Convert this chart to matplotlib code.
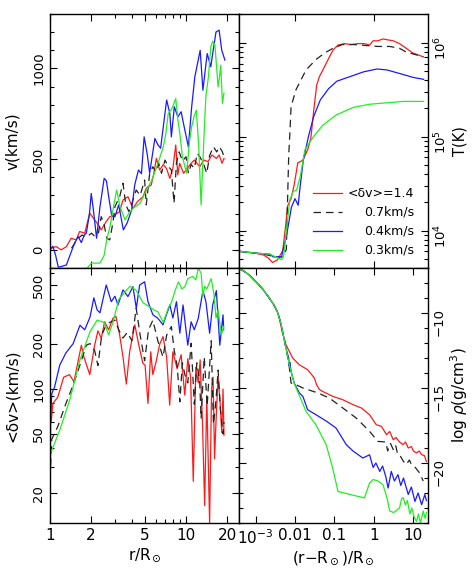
import numpy as np
import matplotlib.pyplot as plt
from matplotlib.ticker import FixedLocator, FixedFormatter, MultipleLocator, NullFormatter

plt.rcParams['font.family'] = ['DejaVu Sans']
plt.rcParams['font.size'] = 10
plt.rcParams['mathtext.fontset'] = 'dejavusans'
plt.rcParams['axes.linewidth'] = 1.0

RED, BLACK, BLUE, GREEN = '#ff1a1a', '#222222', '#1a1aff', '#22ee22'
DASH = (0, (6, 4))
LW = 0.9

# ---- top left: v(km/s) vs r/Rsun
v_red_r = [1.0, 1.02, 1.11, 1.21, 1.32, 1.43, 1.56, 1.65, 1.8, 1.96, 2.13, 2.27, 2.38, 2.59, 2.75, 2.95,
           3.25, 3.44, 3.74, 4.07, 4.4, 4.82, 5.1, 5.55, 5.8, 6.05, 6.4, 6.8, 7.18, 7.6, 8.0, 8.4, 8.7,
           8.97, 9.6, 10.2, 10.9, 11.5, 12.6, 13.5, 14.5, 15.5, 16.7, 17.5, 18.4, 19.0]
v_red = [0, 9, 18, 0, 18, 64, 55, 101, 92, 202, 165, 137, 110, 156, 183, 190, 211, 275, 293, 229, 266,
         293, 339, 358, 422, 504, 440, 470, 449, 394, 449, 578, 413, 477, 422, 450, 477, 495, 458, 495,
         486, 523, 504, 523, 477, 504]

v_black_r = [1.44, 1.57, 1.72, 1.85, 2.02, 2.13, 2.27, 2.38, 2.5, 2.61, 2.75, 2.9, 3.0, 3.25, 3.44, 3.6,
             3.8, 4.0, 4.3, 4.6, 4.96, 5.1, 5.4, 5.7, 6.0, 6.3, 6.6, 7.0, 7.4, 7.8, 8.16, 8.5, 8.9, 9.4,
             10.0, 10.4, 10.9, 11.5, 12.1, 12.7, 13.5, 14.2, 14.9, 15.9, 16.8, 17.6, 18.5, 19.3]
v_black = [9, 55, 82, 70, 92, 75, 92, 183, 140, 64, 55, 150, 238, 293, 367, 250, 211, 257, 330, 300, 385,
           248, 420, 458, 430, 477, 422, 495, 460, 440, 257, 480, 540, 490, 513, 422, 470, 450, 532, 510,
           470, 422, 520, 568, 540, 568, 540, 495]

v_blue_r = [1.0, 1.02, 1.05, 1.1, 1.15, 1.21, 1.32, 1.48, 1.55, 1.61, 1.7, 1.78, 1.85, 1.95, 2.01, 2.08,
            2.2, 2.33, 2.5, 2.6, 2.7, 2.85, 3.0, 3.2, 3.46, 3.7, 3.98, 4.2, 4.47, 4.7, 4.92, 5.2, 5.4,
            5.9, 6.2, 6.5, 7.2, 7.6, 7.8, 8.2, 8.7, 9.2, 9.8, 10.4, 11.0, 11.6, 12.7, 13.3, 14.3, 15.2,
            15.7, 16.6, 17.5, 18.3, 19.3]
v_blue = [0, 9, 20, -30, -95, -92, -83, 17, 50, 73, 40, 80, 92, 200, 311, 226, 64, 238, 394, 380, 293,
          183, 183, 248, 110, 150, 220, 360, 440, 420, 623, 520, 423, 614, 580, 560, 826, 752, 623, 789,
          733, 761, 660, 568, 789, 953, 1100, 880, 1082, 1009, 1082, 1201, 1211, 1100, 1046]

v_green_r = [1.88, 2.02, 2.33, 2.5, 2.61, 2.76, 2.95, 3.09, 3.27, 3.56, 3.8, 4.1, 4.59, 5.13, 5.6, 6.1,
             6.8, 7.1, 7.4, 7.9, 8.4, 8.7, 9.0, 9.4, 10.1, 10.6, 11.0, 11.5, 11.9, 12.4, 12.9, 13.5,
             14.0, 14.6, 15.2, 15.7, 16.3, 16.8, 17.2, 17.6, 18.0, 18.5, 19.0]
v_green = [-100, -73, -73, -30, 55, 128, 250, 330, 238, 165, 202, 230, 257, 330, 385, 458, 568, 640, 752,
           780, 835, 720, 642, 513, 422, 600, 679, 740, 770, 568, 248, 600, 850, 953, 1119, 1150, 1128,
           1000, 899, 950, 1018, 807, 864]

# ---- bottom left: <dv>(km/s) vs r/Rsun
dv_red_r = [1.02, 1.05, 1.14, 1.26, 1.39, 1.5, 1.7, 1.78, 1.96, 2.13, 2.25, 2.38, 2.52, 2.7, 2.9, 3.05,
            3.25, 3.44, 3.64, 3.85, 4.2, 4.5, 4.8, 5.0, 5.25, 5.5, 5.7, 6.0, 6.4, 6.77, 7.2, 7.58, 8.0,
            8.6, 9.2, 9.78, 10.3, 10.8, 11.3, 11.8, 12.3, 12.7, 13.2, 13.7, 14.2, 14.9, 15.4, 15.8,
            16.2, 16.6, 17.2, 17.8, 18.3, 18.7, 19.0]
dv_red = [60, 80, 88, 120, 125, 112, 197, 163, 125, 197, 246, 219, 283, 250, 299, 308, 231, 164, 108,
          178, 270, 197, 150, 144, 80, 178, 125, 150, 200, 225, 164, 78, 178, 137, 170, 91, 160, 120, 24,
          140, 110, 157, 60, 16.5, 90, 12.6, 100, 120, 34, 60, 121, 80, 51, 100, 49]

dv_black_r = [1.0, 1.03, 1.14, 1.31, 1.5, 1.7, 1.85, 1.97, 2.13, 2.25, 2.4, 2.59, 2.8, 3.0, 3.2, 3.44,
              3.7, 4.0, 4.3, 4.6, 4.96, 5.3, 5.7, 6.2, 6.77, 7.2, 7.8, 8.2, 8.6, 9.0, 9.4, 9.8, 10.3,
              10.9, 11.5, 12.0, 12.6, 12.9, 13.6, 14.3, 15.3, 15.9, 16.6, 17.2, 17.9, 18.7, 19.0]
dv_black = [25, 46, 56, 80, 110, 155, 197, 202, 181, 144, 230, 270, 283, 290, 250, 220, 240, 211, 349,
            230, 155, 250, 290, 211, 164, 230, 263, 180, 144, 82, 150, 125, 110, 203, 79, 150, 112, 63.5,
            164, 77, 211, 58, 84, 134, 72, 50, 60]

dv_blue_r = [1.0, 1.01, 1.03, 1.08, 1.18, 1.31, 1.48, 1.66, 1.8, 1.97, 2.1, 2.22, 2.33, 2.45, 2.59,
             2.82, 3.0, 3.16, 3.44, 3.74, 4.07, 4.31, 4.56, 4.96, 5.25, 5.71, 6.2, 6.77, 7.17, 7.6, 8.0,
             8.5, 9.0, 9.5, 10.3, 10.9, 11.5, 12.3, 13.3, 14.0, 14.9, 15.7, 16.7, 17.7, 18.7, 18.9]
dv_blue = [12.6, 60, 93, 103, 145, 175, 202, 268, 250, 305, 410, 340, 325, 400, 500, 386, 420, 367, 463,
           418, 487, 349, 500, 525, 386, 315, 299, 270, 315, 367, 300, 386, 237, 367, 197, 283, 250, 299,
           458, 386, 237, 367, 458, 197, 315, 250]

dv_green_r = [1.0, 1.01, 1.18, 1.4, 1.66, 1.97, 2.22, 2.5, 2.7, 2.9, 3.2, 3.6, 3.87, 4.3, 4.83, 5.3, 5.8,
              6.2, 6.8, 7.4, 7.8, 8.3, 8.8, 9.3, 9.8, 10.3, 11.2, 11.8, 12.3, 12.9, 13.3, 13.7, 14.2,
              15.3, 16.0, 16.6, 17.2, 18.2, 18.9]
dv_green = [12.6, 37, 53, 85, 157, 243, 290, 280, 231, 280, 400, 455, 490, 460, 380, 360, 340, 331, 280,
            349, 380, 458, 525, 470, 487, 552, 570, 540, 650, 600, 420, 490, 470, 552, 440, 300, 340,
            231, 263]

# ---- top right: log T(K) vs log (r-Rsun)/Rsun
T_red_lx = [-3.42, -3.0, -2.8, -2.68, -2.57, -2.44, -2.31, -2.23, -2.19, -2.10, -2.02, -1.93, -1.80,
            -1.68, -1.60, -1.52, -1.45, -1.38, -1.21, -1.04, -0.91, -0.745, -0.575, -0.41, -0.24, -0.11,
            -0.02, 0.10, 0.23, 0.35, 0.49, 0.65, 0.82, 0.99, 1.25]
T_red_l = [3.78, 3.76, 3.74, 3.71, 3.66, 3.69, 3.79, 4.08, 4.26, 4.34, 4.49, 4.72, 4.75, 4.86, 4.98, 5.3,
           5.55, 5.64, 5.78, 5.92, 5.975, 5.99, 5.98, 5.99, 5.99, 5.975, 6.02, 6.02, 6.04, 6.03, 6.02,
           5.99, 5.94, 5.89, 5.85]

T_black_lx = [-3.42, -2.8, -2.5, -2.3, -2.22, -2.19, -2.16, -2.13, -2.10, -1.975, -1.72, -1.47, -1.25,
              -1.04, -0.8, -0.5, -0.2, 0.1, 0.4, 0.65, 0.82, 1.08, 1.25]
T_black_l = [3.78, 3.75, 3.72, 3.72, 3.8, 4.3, 4.8, 5.04, 5.32, 5.50, 5.71, 5.82, 5.89, 5.94, 5.98, 5.98,
             5.97, 5.96, 5.96, 5.94, 5.90, 5.87, 5.85]

T_blue_lx = [-3.42, -3.0, -2.64, -2.55, -2.34, -2.30, -2.21, -2.09, -2.0, -1.92, -1.87, -1.79, -1.66,
             -1.53, -1.36, -1.15, -0.94, -0.60, -0.26, 0.08, 0.33, 0.67, 1.0, 1.26]
T_blue_l = [3.78, 3.76, 3.75, 3.72, 3.72, 3.80, 3.96, 4.25, 4.34, 4.27, 4.47, 4.75, 5.0, 5.21, 5.39,
            5.51, 5.59, 5.64, 5.69, 5.72, 5.71, 5.67, 5.63, 5.61]

T_green_lx = [-3.42, -3.0, -2.64, -2.34, -2.28, -2.21, -2.13, -2.04, -1.96, -1.87, -1.75, -1.55, -1.30,
              -0.96, -0.53, -0.11, 0.32, 0.74, 1.26]
T_green_l = [3.78, 3.76, 3.75, 3.69, 3.75, 4.04, 4.33, 4.42, 4.43, 4.57, 4.86, 4.99, 5.12, 5.23, 5.31,
             5.345, 5.36, 5.375, 5.375]

# ---- bottom right: log rho vs log (r-Rsun)/Rsun (shared inner part, then each run)
rho_core_lx = [-3.42, -3.3, -3.145, -2.98, -2.82, -2.68, -2.55, -2.45]
rho_core = [-7.05, -7.2, -7.5, -7.95, -8.4, -8.9, -9.4, -9.9]

rho_red_lx = [-2.40, -2.33, -2.23, -2.06, -1.89, -1.68, -1.51, -1.45, -1.38, -1.30, -1.04, -0.79, -0.53,
              -0.32, -0.11, 0.06, 0.19, 0.32, 0.40, 0.49, 0.56, 0.65, 0.74, 0.80, 0.87, 0.95, 1.0, 1.08,
              1.15, 1.21, 1.28, 1.33]
rho_red = [-10.3, -11.2, -12.11, -13.0, -13.45, -13.78, -14.33, -14.8, -15.1, -15.23, -15.56, -15.78,
           -16.11, -16.33, -16.78, -17.45, -17.56, -18.11, -17.9, -18.45, -18.3, -18.6, -18.78, -18.6,
           -19.0, -18.9, -19.2, -19.33, -19.2, -19.45, -19.5, -19.9]

rho_black_lx = [-2.36, -2.23, -2.15, -2.10, -1.975, -1.80, -1.42, -1.13, -0.79, -0.45, -0.11, 0.10, 0.3,
                0.35, 0.42, 0.49, 0.55, 0.6, 0.65, 0.75, 0.82, 0.9, 0.95, 1.05, 1.16, 1.25]
rho_black = [-10.67, -12.33, -13.5, -14.67, -14.78, -15.0, -15.33, -15.67, -16.33, -17.0, -17.89, -18.56,
             -18.6, -19.2, -18.7, -19.1, -18.8, -19.4, -19.45, -19.9, -20.1, -19.8, -20.1, -20.3, -20.67,
             -21.2]

rho_blue_lx = [-2.36, -2.23, -2.16, -2.15, -2.13, -2.10, -2.02, -1.89, -1.80, -1.68, -1.47, -1.21, -0.96,
               -0.70, -0.53, -0.28, -0.11, -0.02, 0.05, 0.15, 0.22, 0.30, 0.36, 0.44, 0.52, 0.61, 0.68,
               0.75, 0.87, 0.95, 1.04, 1.12, 1.21, 1.29, 1.33]
rho_blue = [-10.67, -12.33, -13.0, -13.5, -13.3, -13.9, -14.67, -15.33, -15.56, -16.45, -16.78, -17.2,
            -17.67, -18.78, -19.2, -19.67, -19.45, -20.3, -20.0, -20.56, -20.2, -20.9, -21.67, -20.56,
            -21.2, -20.78, -21.5, -21.0, -22.1, -21.6, -22.56, -22.0, -22.78, -22.1, -22.5]

rho_green_lx = [-2.36, -2.23, -2.145, -2.02, -1.72, -1.47, -1.21, -1.05, -0.91, -0.24, -0.11, -0.02,
                0.10, 0.23, 0.33, 0.40, 0.5, 0.65, 0.70, 0.74, 0.80, 0.85, 0.91, 0.96, 1.02, 1.08, 1.13,
                1.18, 1.25, 1.30, 1.33]
rho_green = [-10.67, -12.33, -13.45, -14.7, -16.56, -17.45, -18.78, -20.3, -21.9, -22.33, -21.33, -21.1,
             -21.2, -21.45, -22.3, -23.2, -23.3, -23.0, -22.4, -22.3, -22.8, -22.5, -23.4, -23.0, -23.6,
             -23.9, -23.4, -24.0, -23.2, -23.7, -23.3]

labels = ['<δv>=1.4', '0.7km/s', '0.4km/s', '0.3km/s']
colors = [RED, BLACK, BLUE, GREEN]
styles = ['-', DASH, '-', '-']


def style(ax):
    ax.tick_params(which='both', direction='in', top=True, right=True, left=True, bottom=True,
                   width=0.8)
    ax.tick_params(which='major', length=5)
    ax.tick_params(which='minor', length=3)
    ax.tick_params(axis='x', labelsize=11)
    ax.tick_params(axis='y', labelrotation=90, labelsize=9.5)
    for t in ax.get_yticklabels():
        t.set_va('center')


fig = plt.figure(figsize=(4.73, 5.69), dpi=100)
L, W = 50 / 473, 189 / 473
top_b, top_h = 1 - 268 / 569, 254 / 569
bot_b, bot_h = 1 - 523 / 569, 255 / 569
axv = fig.add_axes([L, top_b, W, top_h])
axT = fig.add_axes([L + W, top_b, W, top_h])
axd = fig.add_axes([L, bot_b, W, bot_h])
axr = fig.add_axes([L + W, bot_b, W, bot_h])

# top left
for rr, vv, c, ls in zip([v_red_r, v_black_r, v_blue_r, v_green_r], [v_red, v_black, v_blue, v_green],
                         colors, styles):
    axv.plot(rr, vv, color=c, ls=ls, lw=LW)
axv.set_xscale('log')
axv.set_xlim(1, 24.5)
axv.set_ylim(-100, 1300)
axv.yaxis.set_major_locator(FixedLocator([0, 500, 1000]))
axv.yaxis.set_minor_locator(MultipleLocator(100))
axv.xaxis.set_major_locator(FixedLocator([1, 2, 5, 10, 20]))
axv.xaxis.set_minor_locator(FixedLocator([3, 4, 6, 7, 8, 9]))
axv.xaxis.set_major_formatter(NullFormatter())
axv.xaxis.set_minor_formatter(NullFormatter())
axv.set_ylabel('v(km/s)', labelpad=9, fontsize=11)
style(axv)

# bottom left
for rr, vv, c, ls in zip([dv_red_r, dv_black_r, dv_blue_r, dv_green_r],
                         [dv_red, dv_black, dv_blue, dv_green], colors, styles):
    axd.plot(rr, vv, color=c, ls=ls, lw=LW)
axd.set_xscale('log')
axd.set_yscale('log')
axd.set_xlim(1, 24.5)
axd.set_ylim(12.6, 650)
axd.xaxis.set_major_locator(FixedLocator([1, 2, 5, 10, 20]))
axd.xaxis.set_major_formatter(FixedFormatter(['1', '2', '5', '10', '20']))
axd.xaxis.set_minor_locator(FixedLocator([3, 4, 6, 7, 8, 9]))
axd.xaxis.set_minor_formatter(NullFormatter())
axd.yaxis.set_major_locator(FixedLocator([20, 50, 100, 200, 500]))
axd.yaxis.set_major_formatter(FixedFormatter(['20', '50', '100', '200', '500']))
axd.yaxis.set_minor_locator(FixedLocator([30, 40, 60, 70, 80, 90, 300, 400, 600]))
axd.yaxis.set_minor_formatter(NullFormatter())
axd.set_xlabel(r'r/R$_\odot$', labelpad=2, fontsize=11)
axd.set_ylabel('<δv>(km/s)', labelpad=9, fontsize=11)
style(axd)

# top right
for lx, ly, c, ls in zip([T_red_lx, T_black_lx, T_blue_lx, T_green_lx],
                         [T_red_l, T_black_l, T_blue_l, T_green_l], colors, styles):
    axT.plot(np.power(10.0, lx), np.power(10.0, ly), color=c, ls=ls, lw=LW)
axT.set_xscale('log')
axT.set_yscale('log')
axT.set_xlim(10 ** -3.42, 23.5)
axT.set_ylim(4.0e3, 2.02e6)
axT.xaxis.set_major_formatter(NullFormatter())
axT.xaxis.set_minor_formatter(NullFormatter())
style(axT)
axT.tick_params(axis='y', labelleft=False, labelright=True)
axT.yaxis.set_label_position('right')
axT.set_ylabel('T(K)', labelpad=2, fontsize=10.5)

# key drawn by hand so that the labels are right aligned as in the original
for i, (lab, c, ls) in enumerate(zip(labels, colors, styles)):
    yy = 0.295 - i * 0.0745
    axT.plot([0.39, 0.545], [yy, yy], transform=axT.transAxes, color=c, ls=ls, lw=LW)
    axT.text(0.925, yy, lab, transform=axT.transAxes, ha='right', va='center', fontsize=9)

# bottom right
for lx, ly, c, ls in zip([rho_red_lx, rho_black_lx, rho_blue_lx, rho_green_lx],
                         [rho_red, rho_black, rho_blue, rho_green], colors, styles):
    axr.plot(np.power(10.0, rho_core_lx + lx), rho_core + ly, color=c, ls=ls, lw=LW)
axr.set_xscale('log')
axr.set_xlim(10 ** -3.42, 23.5)
axr.set_ylim(-24, -7)
axr.yaxis.set_major_locator(FixedLocator([-20, -15, -10]))
axr.yaxis.set_minor_locator(MultipleLocator(1))
axr.xaxis.set_major_locator(FixedLocator([1e-3, 1e-2, 1e-1, 1, 10]))
axr.xaxis.set_major_formatter(FixedFormatter([r'$10^{-3}$', '0.01', '0.1', '1', '10']))
axr.set_xlabel(r'(r−R$_\odot$)/R$_\odot$', labelpad=2, fontsize=11)
style(axr)
axr.tick_params(axis='y', labelleft=False, labelright=True)
axr.yaxis.set_label_position('right')
axr.set_ylabel(r'log $\rho$(g/cm$^3$)', labelpad=2, fontsize=11)

fig.savefig('out.png', dpi=100)
